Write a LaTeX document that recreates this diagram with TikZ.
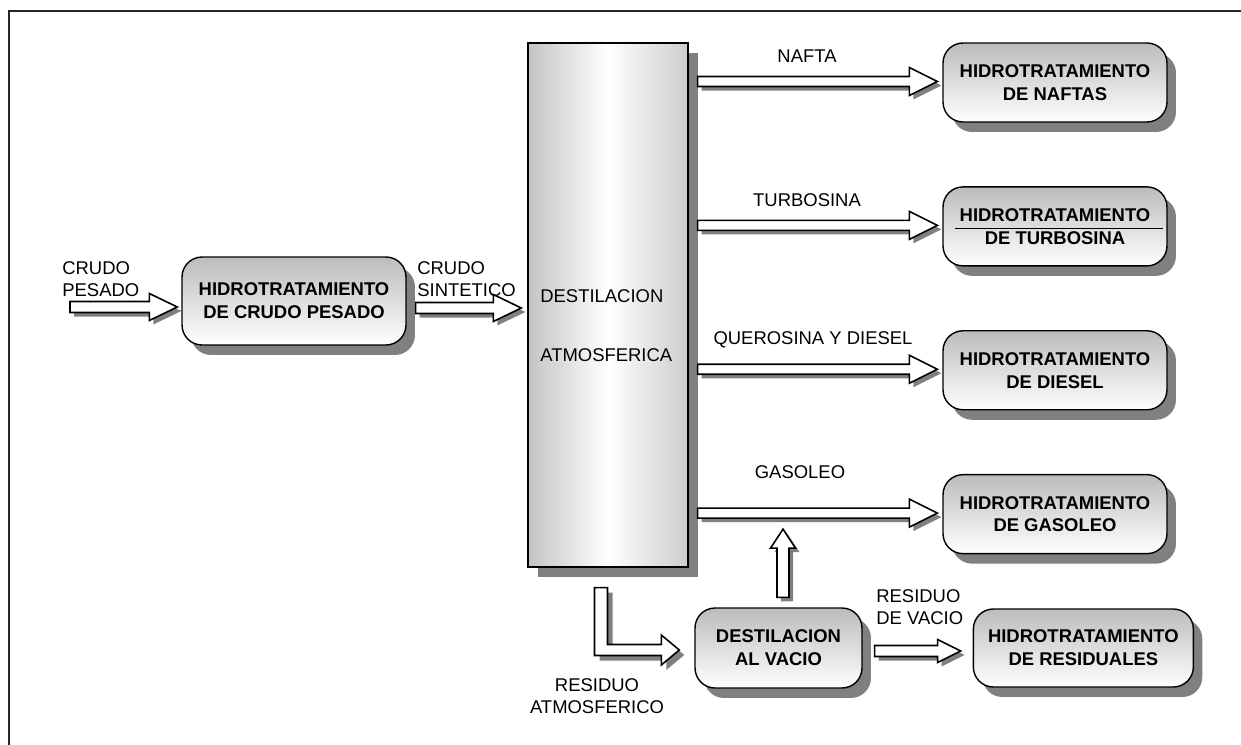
\documentclass[tikz,border=0pt]{standalone}
\usepackage{fontspec}
\setmainfont{Liberation Sans}
\usetikzlibrary{calc,positioning,shadows}
\definecolor{shadowgray}{RGB}{128,128,128}
\definecolor{boxtop}{RGB}{188,188,188}
\definecolor{colside}{RGB}{196,196,196}
\tikzset{
  procbox/.style={
    draw=black,
    line width=0.8pt,
    rounded corners=0.4cm,
    top color=boxtop,
    bottom color=white,
    align=center,
    inner sep=0pt,
    font=\fontsize{10.5}{13}\selectfont\bfseries,
    drop shadow={shadow xshift=0.18cm, shadow yshift=-0.2cm, fill=shadowgray, opacity=1}
  },
  column/.style={
    draw=black,
    line width=0.8pt,
    left color=colside,
    right color=colside!85,
    middle color=white,
    inner sep=0pt,
    drop shadow={shadow xshift=0.2cm, shadow yshift=-0.2cm, fill=shadowgray, opacity=1}
  },
  lbl/.style={font=\fontsize{10.5}{12.5}\selectfont, inner sep=0pt},
  frame/.style={draw=black!85, line width=1pt}
}
% block arrow pointing right: start, tip, shaft half, head half, head length
\newcommand{\rarrow}[5]{%
  \foreach \sh/\fc/\dc in {4/shadowgray/none,0/white/black}{
    \path[fill=\fc, draw=\dc, line width=0.9pt, line join=miter]
      ($(#1)+(\sh,\sh-#3)$) -- ($(#1 -| #2)+(\sh-#5,\sh-#3)$)
      -- ($(#1 -| #2)+(\sh-#5,\sh-#4)$) -- ($(#1 -| #2)+(\sh,\sh)$)
      -- ($(#1 -| #2)+(\sh-#5,\sh+#4)$) -- ($(#1 -| #2)+(\sh-#5,\sh+#3)$)
      -- ($(#1)+(\sh,\sh+#3)$) -- cycle;}}
% block arrow pointing up
\newcommand{\uarrow}[5]{%
  \foreach \sh/\fc/\dc in {4/shadowgray/none,0/white/black}{
    \path[fill=\fc, draw=\dc, line width=0.9pt, line join=miter]
      ($(#1)+(\sh-#3,\sh)$) -- ($(#1 |- #2)+(\sh-#3,\sh+#5)$)
      -- ($(#1 |- #2)+(\sh-#4,\sh+#5)$) -- ($(#1 |- #2)+(\sh,\sh)$)
      -- ($(#1 |- #2)+(\sh+#4,\sh+#5)$) -- ($(#1 |- #2)+(\sh+#3,\sh+#5)$)
      -- ($(#1)+(\sh+#3,\sh)$) -- cycle;}}
% block arrow going down then right
\newcommand{\larrow}[2]{%
  \foreach \sh/\fc/\dc in {5/shadowgray/none,0/white/black}{
    \path[fill=\fc, draw=\dc, line width=0.9pt, line join=miter]
      ($(#1)+(\sh-6.5,\sh)$) -- ($(#1)+(\sh+6.5,\sh)$)
      -- ($(#1 |- #2)+(\sh+6.5,\sh-5.5)$) -- ($(#2)+(\sh-18,\sh-5.5)$)
      -- ($(#2)+(\sh-18,\sh-15)$) -- ($(#2)+(\sh,\sh)$)
      -- ($(#2)+(\sh-18,\sh+15)$) -- ($(#2)+(\sh-18,\sh+5.5)$)
      -- ($(#1 |- #2)+(\sh-6.5,\sh+5.5)$) -- cycle;}}

\begin{document}
\begin{tikzpicture}[x=0.02cm, y=-0.02cm]
  \useasboundingbox (0,0) rectangle (1241,744);
  \clip (0,0) rectangle (1241,744);
  \draw[frame] (9,11) rectangle (1260,760);

  \node[procbox, minimum width=4.48cm, minimum height=1.76cm] (hcp) at (294,301) {HIDROTRATAMIENTO\\DE CRUDO PESADO};
  \node[column, minimum width=3.2cm, minimum height=10.48cm] (col) at (608,305) {};
  \node[lbl, align=left, anchor=west] (coltxt) at (540,325.5) {DESTILACION\\[20.9pt]ATMOSFERICA};

  \node[procbox, minimum width=4.48cm, minimum height=1.58cm] (naf) at (1055,82.5) {HIDROTRATAMIENTO\\DE NAFTAS};
  \node[procbox, minimum width=4.48cm, minimum height=1.58cm, below=1.27cm of naf] (tur) {HIDROTRATAMIENTO\\DE TURBOSINA};
  \node[procbox, minimum width=4.48cm, minimum height=1.58cm, below=1.27cm of tur] (die) {HIDROTRATAMIENTO\\DE DIESEL};
  \node[procbox, minimum width=4.48cm, minimum height=1.58cm, below=1.27cm of die] (gas) {HIDROTRATAMIENTO\\DE GASOLEO};

  \node[procbox, minimum width=3.34cm, minimum height=1.6cm] (vac) at (778.5,648) {DESTILACION\\AL VACIO};
  \node[procbox, minimum width=4.4cm, minimum height=1.56cm, right=2.2cm of vac] (res) {HIDROTRATAMIENTO\\DE RESIDUALES};

  \draw[line width=0.3pt] ($(tur.center)+(-100,2)$) -- ($(tur.center)+(108,2)$);

  \coordinate (cp0) at (70,307);
  \coordinate (cp1) at ($(hcp.west)+(-4,0)$);
  \coordinate (cs0) at ($(hcp.east)+(9,7)$);
  \coordinate (cs1) at ($(col.west)+(-6,0)$);
  \foreach \b in {naf,tur,die,gas}{
    \coordinate (\b0) at ($(col.east |- \b.west)+(9,-1)$);
    \coordinate (\b1) at ($(\b.west)+(-5,0)$);
  }
  \coordinate (vu0) at ($(vac.north)+(4.5,-10)$);
  \coordinate (vu1) at ($(vu0 |- gas.west)+(0,15)$);
  \coordinate (ra0) at ($(col.south)+(-7,20)$);
  \coordinate (ra1) at ($(vac.west)+(-15,2)$);
  \coordinate (rv0) at ($(vac.east)+(12,3)$);
  \coordinate (rv1) at ($(res.west)+(-12,0)$);

  \rarrow{cp0}{cp1}{5.5}{13.5}{28}
  \rarrow{cs0}{cs1}{5.5}{13.5}{28}
  \rarrow{naf0}{naf1}{5}{14}{28}
  \rarrow{tur0}{tur1}{5}{14}{28}
  \rarrow{die0}{die1}{5}{14}{28}
  \rarrow{gas0}{gas1}{5}{14}{28}
  \uarrow{vu0}{vu1}{6}{12.5}{19}
  \larrow{ra0}{ra1}
  \rarrow{rv0}{rv1}{5.5}{11.5}{23}

  \node[lbl, align=left, anchor=west] (lcp) at (62,279) {CRUDO\\PESADO};
  \node[lbl, align=left, anchor=west] (lcs) at (417,279) {CRUDO\\SINTETICO};
  \node[lbl] (lnaf) at (807,56) {NAFTA};
  \node[lbl] (ltur) at (807,200) {TURBOSINA};
  \node[lbl] (ldie) at (813,340) {QUEROSINA Y DIESEL};
  \node[lbl] (lgas) at (800,472) {GASOLEO};
  \node[lbl, align=left, anchor=west] (lrv) at (876,607) {RESIDUO\\DE VACIO};
  \node[lbl, align=center] (lra) at (597,696) {RESIDUO\\ATMOSFERICO};
\end{tikzpicture}
\end{document}
